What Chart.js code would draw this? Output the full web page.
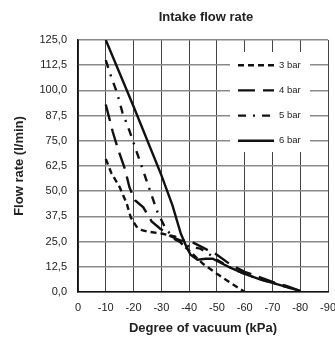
<!DOCTYPE html>
<html>
<head>
<meta charset="utf-8">
<script src="https://cdn.jsdelivr.net/npm/chart.js@4"></script>
<style>
  html, body { margin: 0; padding: 0; background: #fff; overflow: hidden; }
  #wrap { width: 345px; height: 338px; }
</style>
</head>
<body>
<div id="wrap"><canvas id="myChart"></canvas></div>
<script>
// (kPa vs l/min)
const vac3 = [-10, -12, -15, -17.5, -19, -21, -23, -25, -30, -35, -38, -40, -45, -50, -55, -60];
const flow3 = [66, 59, 52, 44, 37, 32.5, 30.7, 30, 29, 27.5, 23, 20.5, 14, 9, 4.5, 0];

const vac4 = [-10, -12.5, -14.5, -17, -18.5, -20.5, -23.5, -26.5, -29.5, -33.5, -37, -40, -45, -50, -55, -60, -65, -70, -75, -80];
const flow4 = [93, 79.5, 70.5, 60.5, 52, 45.5, 42, 35, 31.5, 27.5, 25.5, 25.5, 22, 18.5, 13.5, 10, 7.5, 5, 3, 0.5];

const vac5 = [-10, -12, -14, -16, -18.5, -21, -23.5, -26, -28.5, -31.5, -35, -38, -40, -44, -47, -50, -55, -60, -65, -70, -75, -80];
const flow5 = [115, 106.5, 99, 89, 80, 70, 60, 50, 40, 31.5, 26, 24, 22.5, 21.5, 19, 16, 12, 9, 6.5, 4.5, 2.5, 0.5];

const vac6 = [-10, -20, -30, -34, -37, -39, -40.5, -43, -46, -48.5, -52, -55, -60, -65, -70, -75, -80];
const flow6 = [125, 92, 58, 43, 29, 22.5, 18.5, 16, 16.5, 16.5, 14, 12, 9, 6.5, 4.5, 2.5, 0.5];

const seriesNames = ['3 bar', '4 bar', '5 bar', '6 bar'];
const dashes = [[6, 4], [17, 8], [8, 7, 2, 7], []];

function pts(xs, ys) {
    return xs.map((x, i) => ({x: x, y: ys[i]}));
}

const font = "'Liberation Sans', Arial, sans-serif";

const data = {
    datasets: [
        {label: seriesNames[0], data: pts(vac3, flow3), borderDash: dashes[0]},
        {label: seriesNames[1], data: pts(vac4, flow4), borderDash: dashes[1]},
        {label: seriesNames[2], data: pts(vac5, flow5), borderDash: dashes[2]},
        {label: seriesNames[3], data: pts(vac6, flow6), borderDash: dashes[3]}
    ].map(d => Object.assign(d, {
        borderColor: '#111',
        backgroundColor: '#111',
        borderWidth: 2.4,
        pointRadius: 0,
        tension: 0,
        fill: false
    }))
};

// title over the plot area + legend box inside it
const extras = {
    id: 'extras',
    afterDraw(chart) {
        const ctx = chart.ctx;
        const a = chart.chartArea;
        ctx.save();
        ctx.fillStyle = '#222';
        ctx.font = 'bold 13px ' + font;
        ctx.textAlign = 'center';
        ctx.textBaseline = 'middle';
        ctx.fillText('Intake flow rate', (a.left + a.right) / 2 + 3, 17);

        const ys = chart.scales.y;
        ctx.fillStyle = '#fff';
        ctx.fillRect(230, 52, 80, 100);
        ctx.font = '9.5px ' + font;
        ctx.textAlign = 'left';
        seriesNames.forEach((name, i) => {
            const y = ys.getPixelForValue(112.5 - i * 12.5);
            ctx.strokeStyle = '#111';
            ctx.lineWidth = 2.4;
            ctx.setLineDash(dashes[i]);
            ctx.beginPath();
            ctx.moveTo(238, y);
            ctx.lineTo(274, y);
            ctx.stroke();
            ctx.setLineDash([]);
            ctx.fillStyle = '#222';
            ctx.fillText(name, 279, y);
        });
        ctx.restore();
    }
};

const config = {
    type: 'line',
    data: data,
    options: {
        responsive: true,
        maintainAspectRatio: false,
        animation: false,
        layout: {
            padding: {top: 40, right: 15, left: 0, bottom: 0}
        },
        plugins: {
            legend: {display: false},
            title: {display: false},
            tooltip: {enabled: false}
        },
        scales: {
            x: {
                type: 'linear',
                reverse: true,
                min: -90,
                max: 0,
                afterFit: s => { s.height = 46; },
                ticks: {
                    stepSize: 10,
                    padding: 9,
                    color: '#222',
                    font: {family: font, size: 11},
                    maxRotation: 0
                },
                grid: {color: '#444', lineWidth: 1, drawTicks: false},
                border: {color: '#111', width: 1.5},
                title: {
                    display: true,
                    text: 'Degree of vacuum (kPa)',
                    color: '#222',
                    font: {family: font, size: 13, weight: 'bold'},
                    padding: {top: 0, bottom: 2}
                }
            },
            y: {
                min: 0,
                max: 125,
                afterFit: s => { s.width = 78; },
                ticks: {
                    stepSize: 12.5,
                    padding: 11,
                    color: '#222',
                    font: {family: font, size: 11},
                    callback: v => v.toFixed(1).replace('.', ',')
                },
                grid: {color: '#8a8a8a', lineWidth: 1.5, drawTicks: false},
                border: {color: '#111', width: 1.5},
                title: {
                    display: true,
                    text: 'Flow rate (l/min)',
                    color: '#222',
                    font: {family: font, size: 13, weight: 'bold'},
                    padding: {top: 12, bottom: 0}
                }
            }
        }
    },
    plugins: [extras]
};

var myChart = new Chart(
    document.getElementById('myChart'),
    config
);
</script>
</body>
</html>
